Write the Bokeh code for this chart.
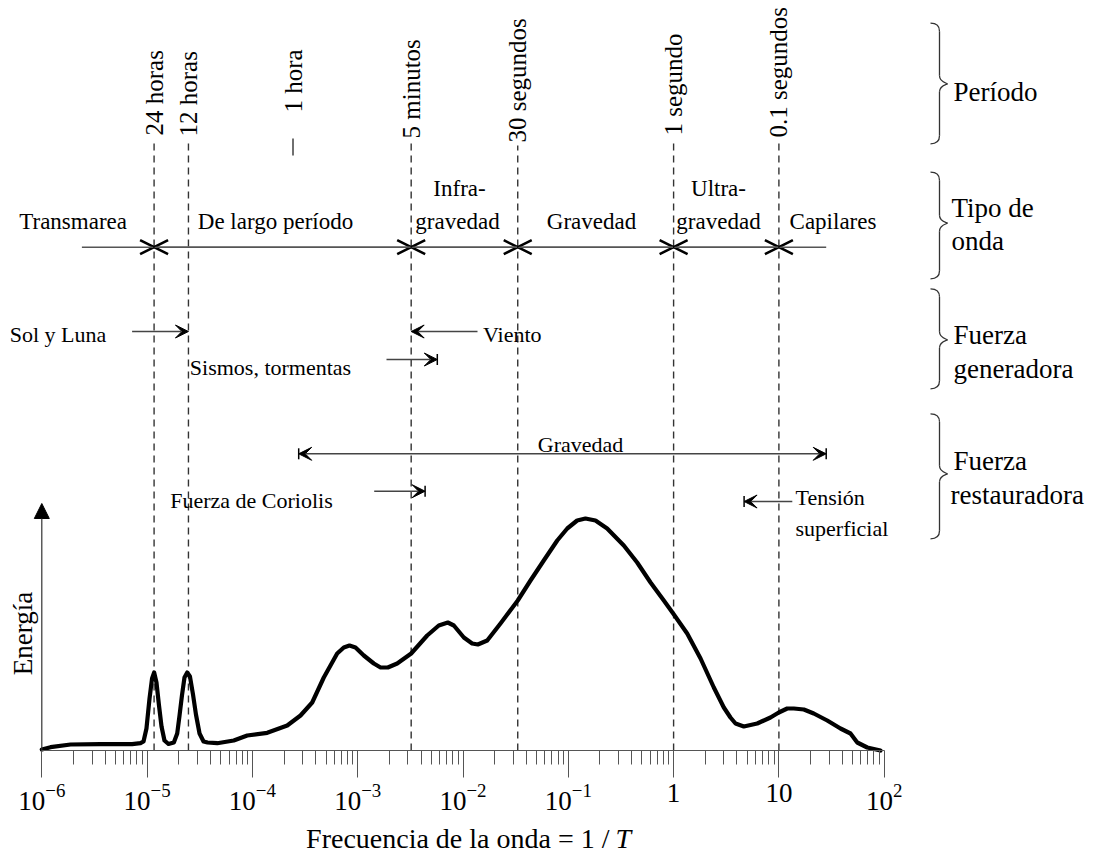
import math
from bokeh.plotting import figure
from bokeh.models import (Range1d, FixedTicker, LogTickFormatter, Arrow, OpenHead,
                          TeeHead, NormalHead, VeeHead, ColumnDataSource)
from bokeh.embed import file_html
from bokeh.resources import INLINE
from bokeh.core.properties import value

# ---------------- data ----------------
# energy spectrum: log10(frequency [Hz]) and relative energy (arbitrary units)
spectrum_log_freq = [
    -6.000, -5.917, -5.727, -5.443, -5.142, -5.063, -5.034, -5.006, -4.977, -4.953,
    -4.933, -4.911, -4.887, -4.863, -4.835, -4.797, -4.746, -4.714, -4.692, -4.669,
    -4.645, -4.619, -4.593, -4.564, -4.536, -4.502, -4.464, -4.426, -4.334, -4.177,
    -4.049, -3.859, -3.669, -3.543, -3.432, -3.322, -3.195, -3.132, -3.078, -3.021,
    -2.942, -2.847, -2.783, -2.714, -2.625, -2.492, -2.340, -2.230, -2.144, -2.087,
    -1.992, -1.913, -1.859, -1.770, -1.644, -1.480, -1.359, -1.233, -1.105, -1.010,
    -0.916, -0.837, -0.742, -0.631, -0.473, -0.346, -0.219, -0.093, -0.004, 0.129,
    0.256, 0.382, 0.477, 0.540, 0.588, 0.667, 0.794, 0.920, 0.999, 1.079,
    1.142, 1.237, 1.331, 1.459, 1.585, 1.680, 1.744, 1.839, 1.965]
spectrum_energy = [
    1, 3.3, 6, 6.3, 6.3, 7.3, 9, 22, 52, 72,
    78, 68, 45, 24, 10, 6.5, 8, 17, 35, 55,
    73, 78, 74, 56, 36, 17, 9, 8, 7.3, 10,
    15, 17.7, 25, 35, 48, 73, 97, 103, 105, 103,
    95, 87, 83, 83, 87, 97, 115, 125, 128, 125,
    113, 107, 106, 110, 127, 150, 170, 190, 210, 222,
    230, 232, 230, 222, 205, 188, 168, 150, 137, 117,
    92, 63, 43, 33, 27, 24, 27, 33, 38, 42,
    42, 41, 37, 30, 22, 17, 8, 3, 0]

period_labels = ["24 horas", "12 horas", "1 hora", "5 minutos",
                 "30 segundos", "1 segundo", "0.1 segundos"]
period_freq = [1.165e-5, 2.47e-5, 2.43e-4, 3.22e-3, 3.31e-2, 1.0, 10.0]

major_ticks = [1e-6, 1e-5, 1e-4, 1e-3, 1e-2, 1e-1, 1.0, 10.0, 100.0]
minor_ticks = [k * 10.0 ** n for n in range(-6, 2) for k in range(2, 10)]
plain_tick_labels = {1.0: "1", 10.0: "10"}

wave_type_labels = ["Transmarea", "De largo período", "Infra-", "gravedad",
                    "Gravedad", "Ultra-", "gravedad", "Capilares"]
force_labels_center = ["Sol y Luna", "Sismos, tormentas", "Gravedad", "Fuerza de Coriolis"]
force_labels_left = ["Viento", "Tensión", "superficial"]
side_labels = ["Período", "Tipo de", "onda", "Fuerza", "generadora", "Fuerza", "restauradora"]
x_title = "Frecuencia de la onda = 1 /"
x_title_var = "T"
y_title = "Energía"

FONT = "Liberation Serif"
W, H = 1100, 856


# ---------------- layout helpers (canvas pixel -> data) ----------------
def PX(px):
    return 10 ** (-6 + (px - 41.3) / 105.3)


def PY(py):
    return 750 - py


p = figure(width=W, height=H, x_axis_type="log",
           x_range=Range1d(PX(0), PX(W)), y_range=Range1d(PY(H), PY(0)),
           y_axis_location=None, title=None,
           output_backend="svg", toolbar_location=None, min_border=0)
p.grid.visible = False
p.outline_line_color = None
p.background_fill_color = "white"
p.border_fill_color = "white"

ax = p.xaxis[0]
ax.fixed_location = 0
ax.ticker = FixedTicker(ticks=major_ticks, minor_ticks=minor_ticks)
ax.formatter = LogTickFormatter()
ax.major_label_overrides = plain_tick_labels
ax.bounds = (1e-6, 1e2)
ax.axis_line_color = "#555555"
ax.axis_line_width = 1.2
ax.major_tick_line_color = "#555555"
ax.minor_tick_line_color = "#555555"
ax.major_tick_in = 0
ax.major_tick_out = 27
ax.minor_tick_in = 0
ax.minor_tick_out = 14
ax.major_label_standoff = 6
ax.major_label_text_font = FONT
ax.major_label_text_font_size = "27px"
ax.major_label_text_color = "black"

# y axis with arrow
p.add_layout(Arrow(end=NormalHead(size=15, fill_color="black", line_color="black"),
                   x_start=1e-6, y_start=0, x_end=1e-6, y_end=PY(503),
                   line_color="#333333", line_width=1.2))

# ---------------- period dashed lines ----------------
line_idx = [0, 1, 3, 4, 5, 6]
line_top = [143, 143, 142, 145, 143, 143]
p.segment(x0=[period_freq[i] for i in line_idx], y0=0,
          x1=[period_freq[i] for i in line_idx], y1=[PY(t) for t in line_top],
          line_color="#333333", line_width=1.4, line_dash="7 5")
p.segment(x0=[period_freq[2]], y0=[PY(155)], x1=[period_freq[2]], y1=[PY(138)],
          line_color="#333333", line_width=1.4)

period_bottom = [135, 136, 112, 138, 142, 135, 137]
p.text(x=period_freq, y=[PY(b) for b in period_bottom], text=period_labels,
       angle=math.pi / 2, text_align="left", text_baseline="middle",
       text_font=value(FONT), text_font_size="25px", text_color="black")

# ---------------- energy spectrum ----------------
spectrum_freq = [10 ** v for v in spectrum_log_freq]
p.line(spectrum_freq, spectrum_energy, line_color="black", line_width=4.2,
       line_join="round", line_cap="round")

# ---------------- wave type row ----------------
bounds = [PX(81.4)] + [period_freq[i] for i in (0, 3, 4, 5, 6)] + [PX(825.7)]
yrow = PY(246.7)
src_r = ColumnDataSource(dict(x0=bounds[:-2], x1=bounds[1:-1], y=[yrow] * 5))
src_l = ColumnDataSource(dict(x0=bounds[2:], x1=bounds[1:-1], y=[yrow] * 5))
for src in (src_r, src_l):
    p.add_layout(Arrow(source=src, x_start="x0", y_start="y", x_end="x1", y_end="y",
                       end=OpenHead(size=14, line_width=2.6, line_color="black"),
                       line_color="#555555", line_width=1.5))

wt_x = [72.6, 275, 459, 457, 591, 718, 718, 832.5]
wt_y = [221, 221, 188, 221, 221, 188, 221, 221]
p.text(x=[PX(v) for v in wt_x], y=[PY(v) for v in wt_y], text=wave_type_labels,
       text_align="center", text_baseline="alphabetic",
       text_font=value(FONT), text_font_size="23px", text_color="black")


# ---------------- force arrows ----------------
def arrow(x0, x1, y, start=False, end=True, tee_start=False, tee_end=False, size=13):
    vh = dict(size=size, line_width=1, line_color="black", fill_color="black")
    p.add_layout(Arrow(x_start=x0, y_start=y, x_end=x1, y_end=y,
                       start=VeeHead(**vh) if start else None,
                       end=VeeHead(**vh) if end else None,
                       line_color="#444444", line_width=1.5))
    if tee_start or tee_end:
        th = dict(size=11, line_width=1.5, line_color="black")
        p.add_layout(Arrow(x_start=x0, y_start=y, x_end=x1, y_end=y,
                           start=TeeHead(**th) if tee_start else None,
                           end=TeeHead(**th) if tee_end else None,
                           line_alpha=0))


arrow(PX(131.6), period_freq[1], PY(331))                      # Sol y Luna
arrow(PX(477), period_freq[3], PY(331))                        # Viento
arrow(PX(386), PX(436.8), PY(359), tee_end=True)               # Sismos
arrow(PX(298.2), PX(825.7), PY(453.3), start=True, tee_start=True, tee_end=True)  # Gravedad
arrow(PX(373.7), PX(424.6), PY(490.7), tee_end=True)           # Coriolis
arrow(PX(791.8), PX(743.6), PY(501), tee_end=True)             # Tension

fc_x = [57.5, 270, 580, 251]
fc_y = [334, 367, 444, 500]
p.text(x=[PX(v) for v in fc_x], y=[PY(v) for v in fc_y], text=force_labels_center,
       text_align="center", text_baseline="alphabetic",
       text_font=value(FONT), text_font_size="22px", text_color="black")
fl_x = [482.5, 795, 795]
fl_y = [334, 497, 528]
p.text(x=[PX(v) for v in fl_x], y=[PY(v) for v in fl_y], text=force_labels_left,
       text_align="left", text_baseline="alphabetic",
       text_font=value(FONT), text_font_size="22px", text_color="black")

# ---------------- side braces and labels ----------------
braces = [(22.7, 143.3, 83.3), (171.7, 278.3, 222.7), (288.3, 388.3, 339.3), (413.3, 538.3, 473.3)]
XE, XS, XT, R = 930, 939, 947, 8
bz = dict(x0=[], y0=[], x1=[], y1=[], cx0=[], cy0=[], cx1=[], cy1=[])
segs = dict(x0=[], y0=[], x1=[], y1=[])


def add_bz(a, b, c0, c1):
    for k, pt in (("0", a), ("1", b)):
        bz["x" + k].append(PX(pt[0])); bz["y" + k].append(PY(pt[1]))
    bz["cx0"].append(PX(c0[0])); bz["cy0"].append(PY(c0[1]))
    bz["cx1"].append(PX(c1[0])); bz["cy1"].append(PY(c1[1]))


for top, bot, mid in braces:
    add_bz((XE, top), (XS, top + R), (936, top), (XS, top + 3))
    add_bz((XS, mid - R), (XT, mid), (XS, mid - 2), (945, mid - 1))
    add_bz((XT, mid), (XS, mid + R), (945, mid + 1), (XS, mid + 2))
    add_bz((XS, bot - R), (XE, bot), (XS, bot - 3), (936, bot))
    for a, b in (((XS, top + R), (XS, mid - R)), ((XS, mid + R), (XS, bot - R))):
        segs["x0"].append(PX(a[0])); segs["y0"].append(PY(a[1]))
        segs["x1"].append(PX(b[0])); segs["y1"].append(PY(b[1]))

p.bezier(source=ColumnDataSource(bz), x0="x0", y0="y0", x1="x1", y1="y1",
         cx0="cx0", cy0="cy0", cx1="cx1", cy1="cy1", line_color="#333333", line_width=1.3)
p.segment(source=ColumnDataSource(segs), x0="x0", y0="y0", x1="x1", y1="y1",
          line_color="#333333", line_width=1.3)

sl_x = [953, 951, 951, 953, 953, 953, 950]
sl_y = [91, 207, 240, 334, 368, 460, 494]
p.text(x=[PX(v) for v in sl_x], y=[PY(v) for v in sl_y], text=side_labels,
       text_align="left", text_baseline="alphabetic",
       text_font=value(FONT), text_font_size="27px", text_color="black")

# ---------------- axis titles ----------------
p.text(x=[PX(22)], y=[PY(633)], text=[y_title], angle=math.pi / 2,
       text_align="center", text_baseline="middle",
       text_font=value(FONT), text_font_size="27px", text_color="black")
p.text(x=[PX(609)], y=[PY(838)], text=[x_title],
       text_align="right", text_baseline="alphabetic",
       text_font=value(FONT), text_font_size="28px", text_color="black")
p.text(x=[PX(615)], y=[PY(838)], text=[x_title_var], text_font_style="italic",
       text_align="left", text_baseline="alphabetic",
       text_font=value(FONT), text_font_size="28px", text_color="black")

open("out.html", "w").write(file_html(p, INLINE))
